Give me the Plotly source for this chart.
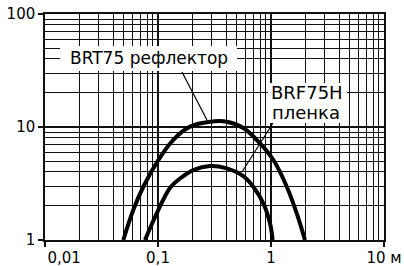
import plotly.graph_objects as go

# ---- data ----
brt75_x = [0.0493, 0.0604, 0.0741, 0.1006, 0.136, 0.192, 0.288, 0.406, 0.569, 0.80, 1.05, 1.38, 1.69, 2.0]
brt75_y = [1.0, 1.84, 2.96, 5.10, 7.67, 10.07, 11.14, 11.14, 9.80, 7.17, 5.10, 2.96, 1.72, 1.0]

brf75h_x = [0.0767, 0.0867, 0.0974, 0.111, 0.1276, 0.1567, 0.205, 0.288, 0.406, 0.569, 0.697, 0.855, 0.980, 1.035]
brf75h_y = [1.0, 1.33, 1.72, 2.26, 2.89, 3.50, 4.16, 4.52, 4.31, 3.68, 2.96, 2.11, 1.405, 1.0]

x_tickvals = [0.01, 0.1, 1, 10]
x_ticktext = ["\u00a0\u00a0\u00a0\u00a0\u00a0\u00a0\u00a0\u00a00,01", "0,1", "1", "10 м"]
y_tickvals = [1, 10, 100]
y_ticktext = ["1", "10", "100"]

label_brt = "BRT75 рефлектор"
label_brf1 = "BRF75H"
label_brf2 = "пленка"

# ---- layout geometry (pixels) ----
W, H = 404, 266
L, R, T, B = 45, 384, 14, 240
PW, PH = R - L, B - T


def px(xp):
    return (xp - L) / PW


def py(yp):
    return (B - yp) / PH


FONT = "DejaVu Sans"
INK = "#111111"

fig = go.Figure()
fig.add_trace(go.Scatter(x=brt75_x, y=brt75_y, mode="lines",
                         line=dict(color="black", width=4, shape="spline", smoothing=0.9),
                         name=label_brt, showlegend=False))
fig.add_trace(go.Scatter(x=brf75h_x, y=brf75h_y, mode="lines",
                         line=dict(color="black", width=4, shape="spline", smoothing=0.9),
                         name=label_brf1, showlegend=False))

axis_common = dict(
    type="log",
    automargin=False,
    showgrid=True, gridcolor=INK, gridwidth=2,
    showline=True, linecolor=INK, linewidth=1.5, mirror=True,
    ticks="outside", ticklen=5, tickcolor=INK, tickwidth=1.5,
    tickfont=dict(family=FONT, size=15, color="black"),
    zeroline=False,
    minor=dict(dtick="D1", showgrid=True, gridcolor=INK, gridwidth=1, ticks=""),
)

fig.update_xaxes(range=[-2, 1], tickmode="array", tickvals=x_tickvals, ticktext=x_ticktext,
                 ticklabelstandoff=-2, **axis_common)
fig.update_yaxes(range=[0, 2], tickmode="array", tickvals=y_tickvals, ticktext=y_ticktext, **axis_common)

shapes = [
    dict(type="rect", xref="paper", yref="paper", x0=px(60), x1=px(237), y0=py(71), y1=py(46),
         fillcolor="white", line=dict(width=0), layer="above"),
    dict(type="rect", xref="paper", yref="paper", x0=px(268), x1=px(347), y0=py(123), y1=py(83),
         fillcolor="white", line=dict(width=0), layer="above"),
    dict(type="line", xref="paper", yref="paper", x0=px(182), y0=py(72), x1=px(207), y1=py(120),
         line=dict(color="black", width=1.2), layer="above"),
    dict(type="line", xref="paper", yref="paper", x0=px(273), y0=py(123), x1=px(242), y1=py(172),
         line=dict(color="black", width=1.2), layer="above"),
]

annotations = [
    dict(xref="paper", yref="paper", x=px(149), y=py(58), text=label_brt, showarrow=False,
         xanchor="center", yanchor="middle", font=dict(family=FONT, size=17, color="black")),
    dict(xref="paper", yref="paper", x=px(307), y=py(92), text=label_brf1, showarrow=False,
         xanchor="center", yanchor="middle", font=dict(family=FONT, size=18, color="black")),
    dict(xref="paper", yref="paper", x=px(306), y=py(112), text=label_brf2, showarrow=False,
         xanchor="center", yanchor="middle", font=dict(family=FONT, size=18, color="black")),
]

fig.update_layout(
    width=W, height=H,
    margin=dict(l=L, r=W - R, t=T, b=H - B, pad=0),
    paper_bgcolor="white", plot_bgcolor="white",
    shapes=shapes, annotations=annotations,
    showlegend=False,
)

fig.write_html("out.html", config={"displayModeBar": False},
               post_script="document.body.style.margin='0px';document.body.style.overflow='hidden';")
